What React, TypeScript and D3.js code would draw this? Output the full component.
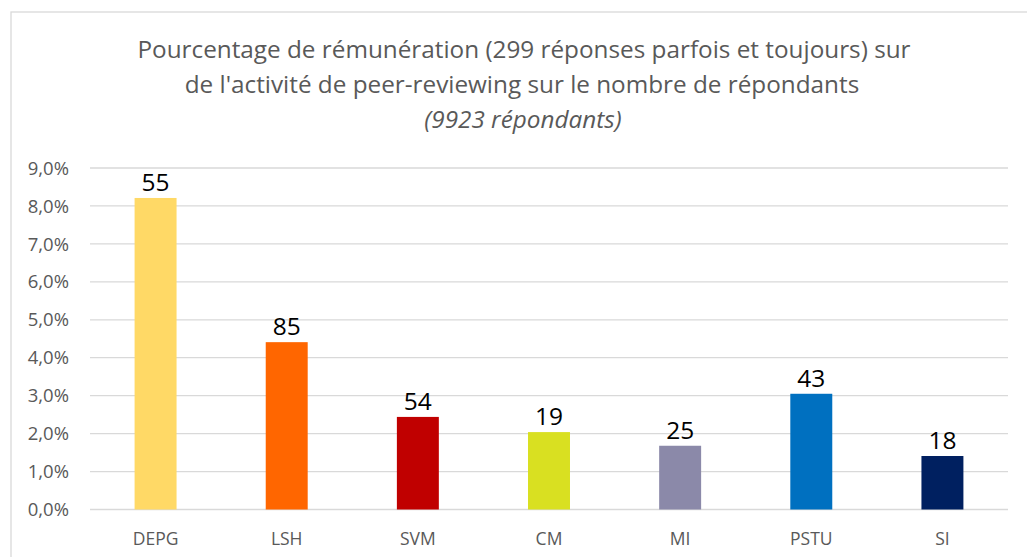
import React from "react";
import * as d3 from "d3";

const categories = ["DEPG", "LSH", "SVM", "CM", "MI", "PSTU", "SI"];
const percentages = [8.21, 4.41, 2.44, 2.04, 1.68, 3.05, 1.41];
const counts = ["55", "85", "54", "19", "25", "43", "18"];
const colors = ["#FFD966", "#FF6600", "#C00000", "#D9E021", "#8B89A9", "#0070C0", "#002060"];
const yTicks = [0, 1, 2, 3, 4, 5, 6, 7, 8, 9];
const titleLines = [
  "Pourcentage de rémunération (299 réponses parfois et toujours) sur",
  "de l'activité de peer-reviewing sur le nombre de répondants",
];
const subtitle = "(9923 répondants)";

export default function App() {
  const W = 1027, H = 557;
  const left = 90, right = 1008, top = 168, bottom = 509.5;
  const x = d3.scaleBand().domain(categories).range([left, right]).paddingInner(0.68).paddingOuter(0.34);
  const y = d3.scaleLinear().domain([0, 9]).range([bottom, top]);
  const font = "'Open Sans', sans-serif";
  const fmt = (v: number) => v.toFixed(1).replace(".", ",") + "%";
  return (
    <svg width={W} height={H} style={{ position: "absolute", left: 0, top: 0 }}>
      <rect x={0} y={0} width={W} height={H} fill="#fff" />
      <rect x={11} y={12} width={W + 20} height={H + 20} fill="#fff" stroke="#d9d9d9" strokeWidth={1.3} />
      <g fontFamily={font} fill="#595959" textAnchor="middle">
        <text x={524} y={58} fontSize={24.3}>{titleLines[0]}</text>
        <text x={522} y={93} fontSize={24.3}>{titleLines[1]}</text>
        <text x={523} y={128} fontSize={24.3} fontStyle="italic">{subtitle}</text>
      </g>
      {yTicks.map((t) => (
        <g key={t}>
          <line x1={left} x2={right} y1={y(t)} y2={y(t)} stroke="#d9d9d9" strokeWidth={1.3} />
          <text x={69} y={y(t)} dy="0.36em" textAnchor="end" fontFamily={font} fontSize={18.5} fill="#595959">{fmt(t)}</text>
        </g>
      ))}
      {categories.map((c, i) => (
        <g key={c}>
          <rect x={x(c)} y={y(percentages[i])} width={x.bandwidth()} height={bottom - y(percentages[i])} fill={colors[i]} />
          <text x={(x(c) as number) + x.bandwidth() / 2} y={y(percentages[i]) - 7} textAnchor="middle" fontFamily={font} fontSize={24.5} fill="#000">{counts[i]}</text>
          <text x={(x(c) as number) + x.bandwidth() / 2} y={545} textAnchor="middle" fontFamily={font} fontSize={17.5} fill="#595959">{c}</text>
        </g>
      ))}
    </svg>
  );
}
